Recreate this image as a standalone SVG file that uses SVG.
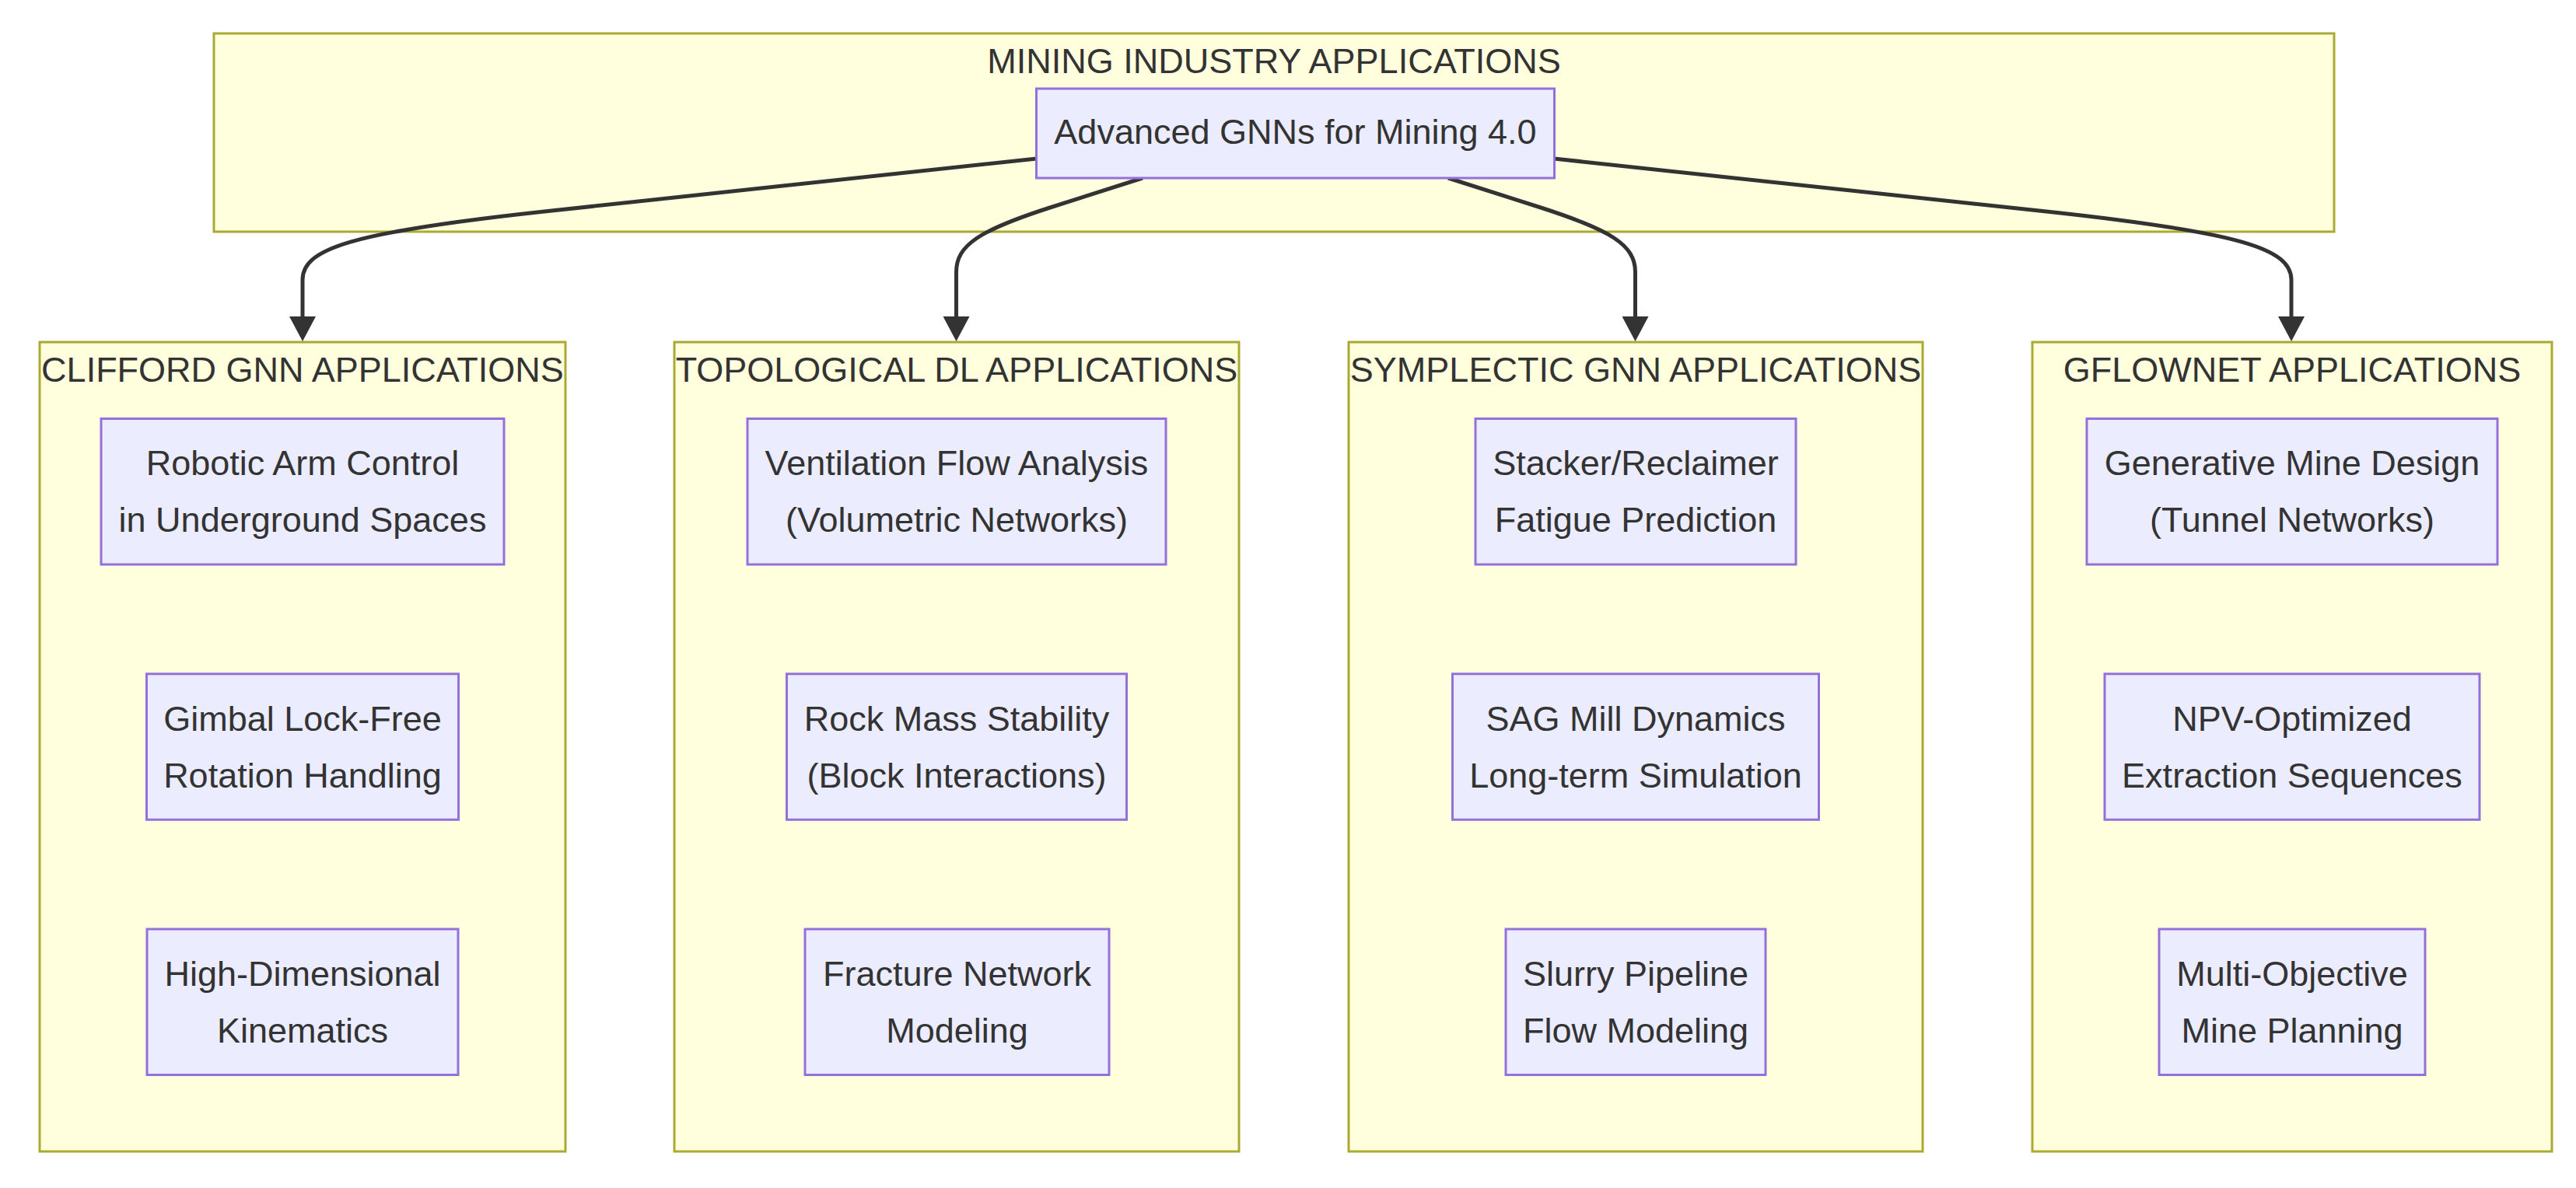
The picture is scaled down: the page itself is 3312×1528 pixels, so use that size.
<svg xmlns="http://www.w3.org/2000/svg" width="3312" height="1528" viewBox="0 0 3312 1528">
<defs>
<style>
.cluster rect{fill:#ffffde;stroke:#aaaa33;stroke-width:3}
.node rect{fill:#ececff;stroke:#9370db;stroke-width:3}
text{font-family:"Liberation Sans",Arial,sans-serif;font-size:45px;fill:#333333;text-anchor:middle}
.edge{fill:none;stroke:#333333;stroke-width:5}
</style>
<marker id="arrow" markerUnits="userSpaceOnUse" viewBox="0 0 32 34" markerWidth="32" markerHeight="34" refX="0" refY="17" orient="auto">
<path d="M0,0 L32,17 L0,34 z" fill="#333333"/>
</marker>
</defs>
<rect width="3312" height="1528" fill="#ffffff"/>

<g id="cluster-mining" class="cluster">
<rect x="275" y="43" width="2726" height="255"/>
<text x="1638" y="94">MINING INDUSTRY APPLICATIONS</text>
</g>
<g id="cluster-clifford" class="cluster">
<rect x="51" y="440" width="676" height="1041"/>
<text x="389" y="491">CLIFFORD GNN APPLICATIONS</text>
</g>
<g id="cluster-topological" class="cluster">
<rect x="867" y="440" width="726" height="1041"/>
<text x="1230" y="491">TOPOLOGICAL DL APPLICATIONS</text>
</g>
<g id="cluster-symplectic" class="cluster">
<rect x="1734" y="440" width="738" height="1041"/>
<text x="2103" y="491">SYMPLECTIC GNN APPLICATIONS</text>
</g>
<g id="cluster-gflownet" class="cluster">
<rect x="2613" y="440" width="668" height="1041"/>
<text x="2947" y="491">GFLOWNET APPLICATIONS</text>
</g>

<g id="connectors">
<path class="edge" d="M1333,204 L700,272 C450,299 389,320 389,360 L389,407" marker-end="url(#arrow)"/>
<path class="edge" d="M1469,229 L1350,267 C1260,296 1229.5,315 1229.5,350 L1229.5,407" marker-end="url(#arrow)"/>
<path class="edge" d="M1862,229 L1981,267 C2071,296 2102.5,315 2102.5,350 L2102.5,407" marker-end="url(#arrow)"/>
<path class="edge" d="M1998,204 L2631,272 C2881,299 2946,320 2946,360 L2946,407" marker-end="url(#arrow)"/>
</g>

<g id="node-main" class="node">
<rect x="1332.5" y="114" width="666" height="115"/>
<text x="1665.5" y="185">Advanced GNNs for Mining 4.0</text>
</g>

<g id="node-robotic" class="node">
<rect x="130" y="538.5" width="518" height="187.5"/>
<text x="389" y="611">Robotic Arm Control</text>
<text x="389" y="684">in Underground Spaces</text>
</g>
<g id="node-gimbal" class="node">
<rect x="188.5" y="866.75" width="401" height="187.5"/>
<text x="389" y="939.5">Gimbal Lock-Free</text>
<text x="389" y="1012.5">Rotation Handling</text>
</g>
<g id="node-highdim" class="node">
<rect x="189" y="1195" width="400" height="187.5"/>
<text x="389" y="1268">High-Dimensional</text>
<text x="389" y="1341">Kinematics</text>
</g>

<g id="node-ventilation" class="node">
<rect x="961" y="538.5" width="538" height="187.5"/>
<text x="1230" y="611">Ventilation Flow Analysis</text>
<text x="1230" y="684">(Volumetric Networks)</text>
</g>
<g id="node-rockmass" class="node">
<rect x="1011.5" y="866.75" width="437" height="187.5"/>
<text x="1230" y="939.5">Rock Mass Stability</text>
<text x="1230" y="1012.5">(Block Interactions)</text>
</g>
<g id="node-fracture" class="node">
<rect x="1035" y="1195" width="391" height="187.5"/>
<text x="1230.5" y="1268">Fracture Network</text>
<text x="1230.5" y="1341">Modeling</text>
</g>

<g id="node-stacker" class="node">
<rect x="1897" y="538.5" width="412" height="187.5"/>
<text x="2103" y="611">Stacker/Reclaimer</text>
<text x="2103" y="684">Fatigue Prediction</text>
</g>
<g id="node-sag" class="node">
<rect x="1867.5" y="866.75" width="471" height="187.5"/>
<text x="2103" y="939.5">SAG Mill Dynamics</text>
<text x="2103" y="1012.5">Long-term Simulation</text>
</g>
<g id="node-slurry" class="node">
<rect x="1936" y="1195" width="334" height="187.5"/>
<text x="2103" y="1268">Slurry Pipeline</text>
<text x="2103" y="1341">Flow Modeling</text>
</g>

<g id="node-generative" class="node">
<rect x="2683" y="538.5" width="528" height="187.5"/>
<text x="2947" y="611">Generative Mine Design</text>
<text x="2947" y="684">(Tunnel Networks)</text>
</g>
<g id="node-npv" class="node">
<rect x="2706" y="866.75" width="482" height="187.5"/>
<text x="2947" y="939.5">NPV-Optimized</text>
<text x="2947" y="1012.5">Extraction Sequences</text>
</g>
<g id="node-multi" class="node">
<rect x="2776" y="1195" width="342" height="187.5"/>
<text x="2947" y="1268">Multi-Objective</text>
<text x="2947" y="1341">Mine Planning</text>
</g>
</svg>
